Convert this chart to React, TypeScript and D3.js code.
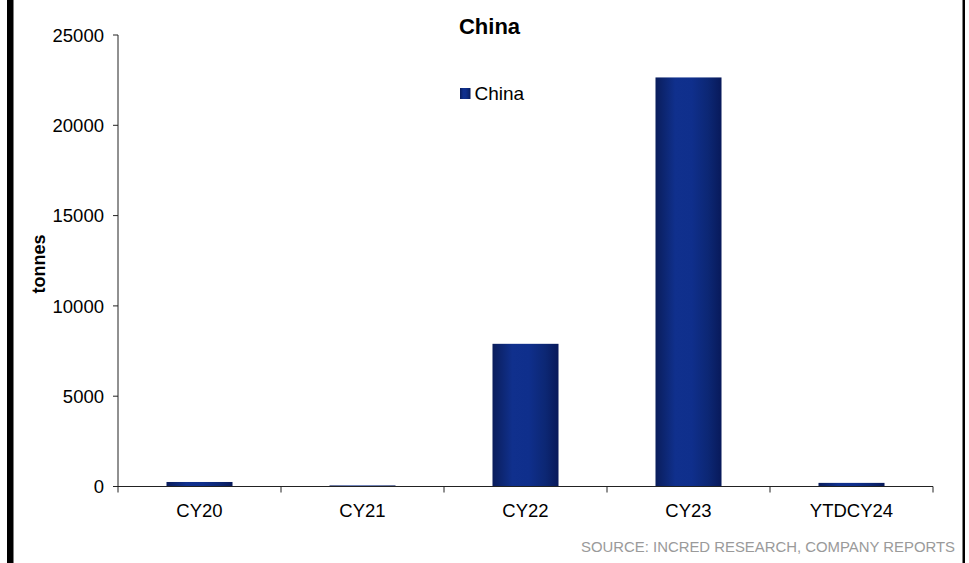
import React from "react";
import * as d3 from "d3";

const categories = ["CY20", "CY21", "CY22", "CY23", "YTDCY24"];
const chinaValues = [250, 60, 7900, 22650, 200];
const yTicks = [0, 5000, 10000, 15000, 20000, 25000];
const seriesName = "China";
const chartTitle = "China";
const yAxisTitle = "tonnes";
const sourceNote = "SOURCE: INCRED RESEARCH, COMPANY REPORTS";

const W = 969;
const H = 563;
const plot = { left: 118, right: 933, top: 35, bottom: 486.5 };
const font = "Arial, 'Liberation Sans', Helvetica, sans-serif";

export default function App() {
  const x = d3
    .scaleBand<string>()
    .domain(categories)
    .range([plot.left, plot.right])
    .paddingInner(0.595)
    .paddingOuter(0.2975);
  const y = d3.scaleLinear().domain([0, 25000]).range([plot.bottom, plot.top]);

  const step = (plot.right - plot.left) / categories.length;
  const boundaries = d3.range(categories.length + 1).map((i) => plot.left + i * step);

  return (
    <div style={{ position: "absolute", left: 0, top: 0 }}>
      <svg width={W} height={H} style={{ display: "block", background: "#fff" }}>
        <defs>
          <linearGradient id="barFill" x1="0" x2="1" y1="0" y2="0">
            <stop offset="0%" stopColor="#0a1d5c" />
            <stop offset="20%" stopColor="#0e2a7c" />
            <stop offset="30%" stopColor="#10308d" />
            <stop offset="55%" stopColor="#0f2f8c" />
            <stop offset="80%" stopColor="#0c2774" />
            <stop offset="100%" stopColor="#08195a" />
          </linearGradient>
        </defs>

        {/* frame bars */}
        <rect x={7} y={0} width={6.5} height={H} fill="#000" />
        <rect x={962.5} y={0} width={2.5} height={H} fill="#000" />

        {/* bars */}
        {categories.map((c, i) => (
          <rect
            key={c}
            x={x(c)}
            y={y(chinaValues[i])}
            width={x.bandwidth()}
            height={plot.bottom - y(chinaValues[i])}
            fill="url(#barFill)"
          />
        ))}

        {/* y axis */}
        <line x1={plot.left} x2={plot.left} y1={plot.top} y2={plot.bottom} stroke="#222" strokeWidth={1} />
        {yTicks.map((t) => (
          <g key={t}>
            <line x1={plot.left - 5} x2={plot.left} y1={y(t)} y2={y(t)} stroke="#222" strokeWidth={1} />
            <text
              x={104}
              y={y(t)}
              dy="0.36em"
              textAnchor="end"
              fontFamily={font}
              fontSize={18.5}
              fill="#000"
            >
              {t}
            </text>
          </g>
        ))}

        {/* x axis */}
        <line x1={plot.left} x2={plot.right} y1={plot.bottom} y2={plot.bottom} stroke="#222" strokeWidth={1} />
        {boundaries.map((bx, i) => (
          <line key={i} x1={bx} x2={bx} y1={plot.bottom} y2={plot.bottom + 6} stroke="#222" strokeWidth={1} />
        ))}
        {categories.map((c) => (
          <text
            key={c}
            x={(x(c) as number) + x.bandwidth() / 2}
            y={517}
            textAnchor="middle"
            fontFamily={font}
            fontSize={18.5}
            fill="#000"
          >
            {c}
          </text>
        ))}

        {/* y axis title */}
        <text
          transform={`translate(45, 264) rotate(-90)`}
          textAnchor="middle"
          fontFamily={font}
          fontSize={18}
          fontWeight="bold"
          fill="#000"
        >
          {yAxisTitle}
        </text>

        {/* title */}
        <text x={489.5} y={34} textAnchor="middle" fontFamily={font} fontSize={22} fontWeight="bold" fill="#000">
          {chartTitle}
        </text>

        {/* legend */}
        <rect x={460} y={88} width={10.5} height={11} fill="url(#barFill)" />
        <text x={474.5} y={100} fontFamily={font} fontSize={19} fill="#000">
          {seriesName}
        </text>

        {/* source */}
        <text x={955} y={552} textAnchor="end" fontFamily={font} fontSize={14.9} fill="#9a9a9a">
          {sourceNote}
        </text>
      </svg>
    </div>
  );
}
